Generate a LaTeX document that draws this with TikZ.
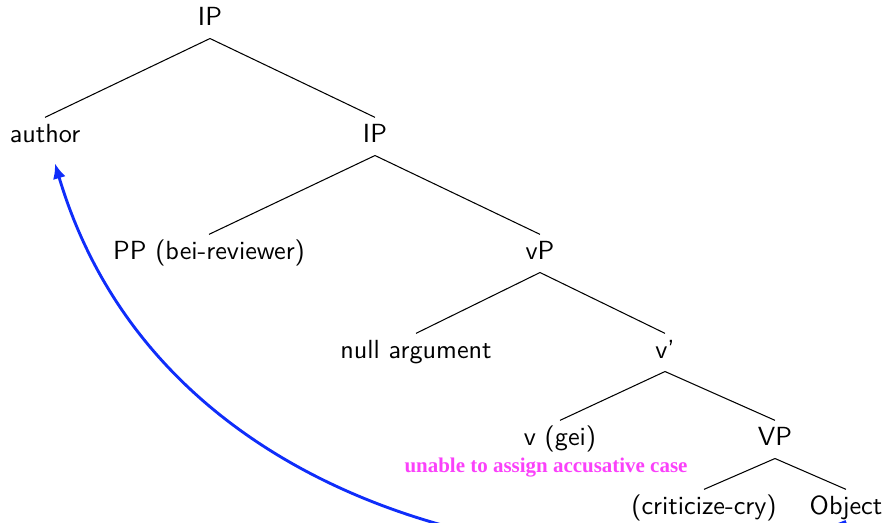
\documentclass[tikz,border=0pt]{standalone}
\usepackage{fontspec}
\newfontfamily\magfont{Liberation Serif}
\usetikzlibrary{arrows.meta}
\definecolor{arrowblue}{RGB}{15,45,250}
\definecolor{casemag}{RGB}{250,65,250}
\begin{document}
\begin{tikzpicture}[x=0.38168pt,y=-0.38168pt,
  tn/.style={font=\sffamily\fontsize{10}{12}\selectfont, text height=7.5pt, text depth=2.5pt, inner sep=2.08pt, anchor=base},
  br/.style={draw=black, line width=0.4pt},
  mv/.style={draw=arrowblue, line width=1.1pt, -{Latex[length=5.8pt,width=5pt]}},
  note/.style={font=\magfont\bfseries\fontsize{8}{10}\selectfont, text=casemag, anchor=base, inner sep=0pt}]
\useasboundingbox (0,0) rectangle (884,523);
% nodes
\node[tn] (ip1) at (210,26) {IP};
\node[tn] (author) at (45,143) {author};
\node[tn] (ip2) at (375,143) {IP};
\node[tn] (pp) at (209,260) {PP (bei-reviewer)};
\node[tn] (vP) at (540,260) {vP};
\node[tn] (null) at (416,359) {null argument};
\node[tn] (vbar) at (665,359) {v'};
\node[tn] (vgei) at (560,446) {v (gei)};
\node[tn] (VP) at (775,446) {VP};
\node[tn] (crit) at (704,515) {(criticize-cry)};
\node[tn] (obj) at (846,515) {Object};
\node[note] (case) at (546,473) {unable to assign accusative case};
% branches
\draw[br] (ip1.south) -- (author.north);
\draw[br] (ip1.south) -- (ip2.north);
\draw[br] (ip2.south) -- (pp.north);
\draw[br] (ip2.south) -- (vP.north);
\draw[br] (vP.south) -- (null.north);
\draw[br] (vP.south) -- (vbar.north);
\draw[br] (vbar.south) -- (vgei.north);
\draw[br] (vbar.south) -- (VP.north);
\draw[br] (VP.south) -- (crit.north);
\draw[br] (VP.south) -- (obj.north);
% movement arrow
\draw[mv] ([yshift=2.3pt]obj.south) .. controls +(-195,79) and +(115,387) .. ([xshift=3.8pt,yshift=-3pt]author.south);
\end{tikzpicture}
\end{document}
